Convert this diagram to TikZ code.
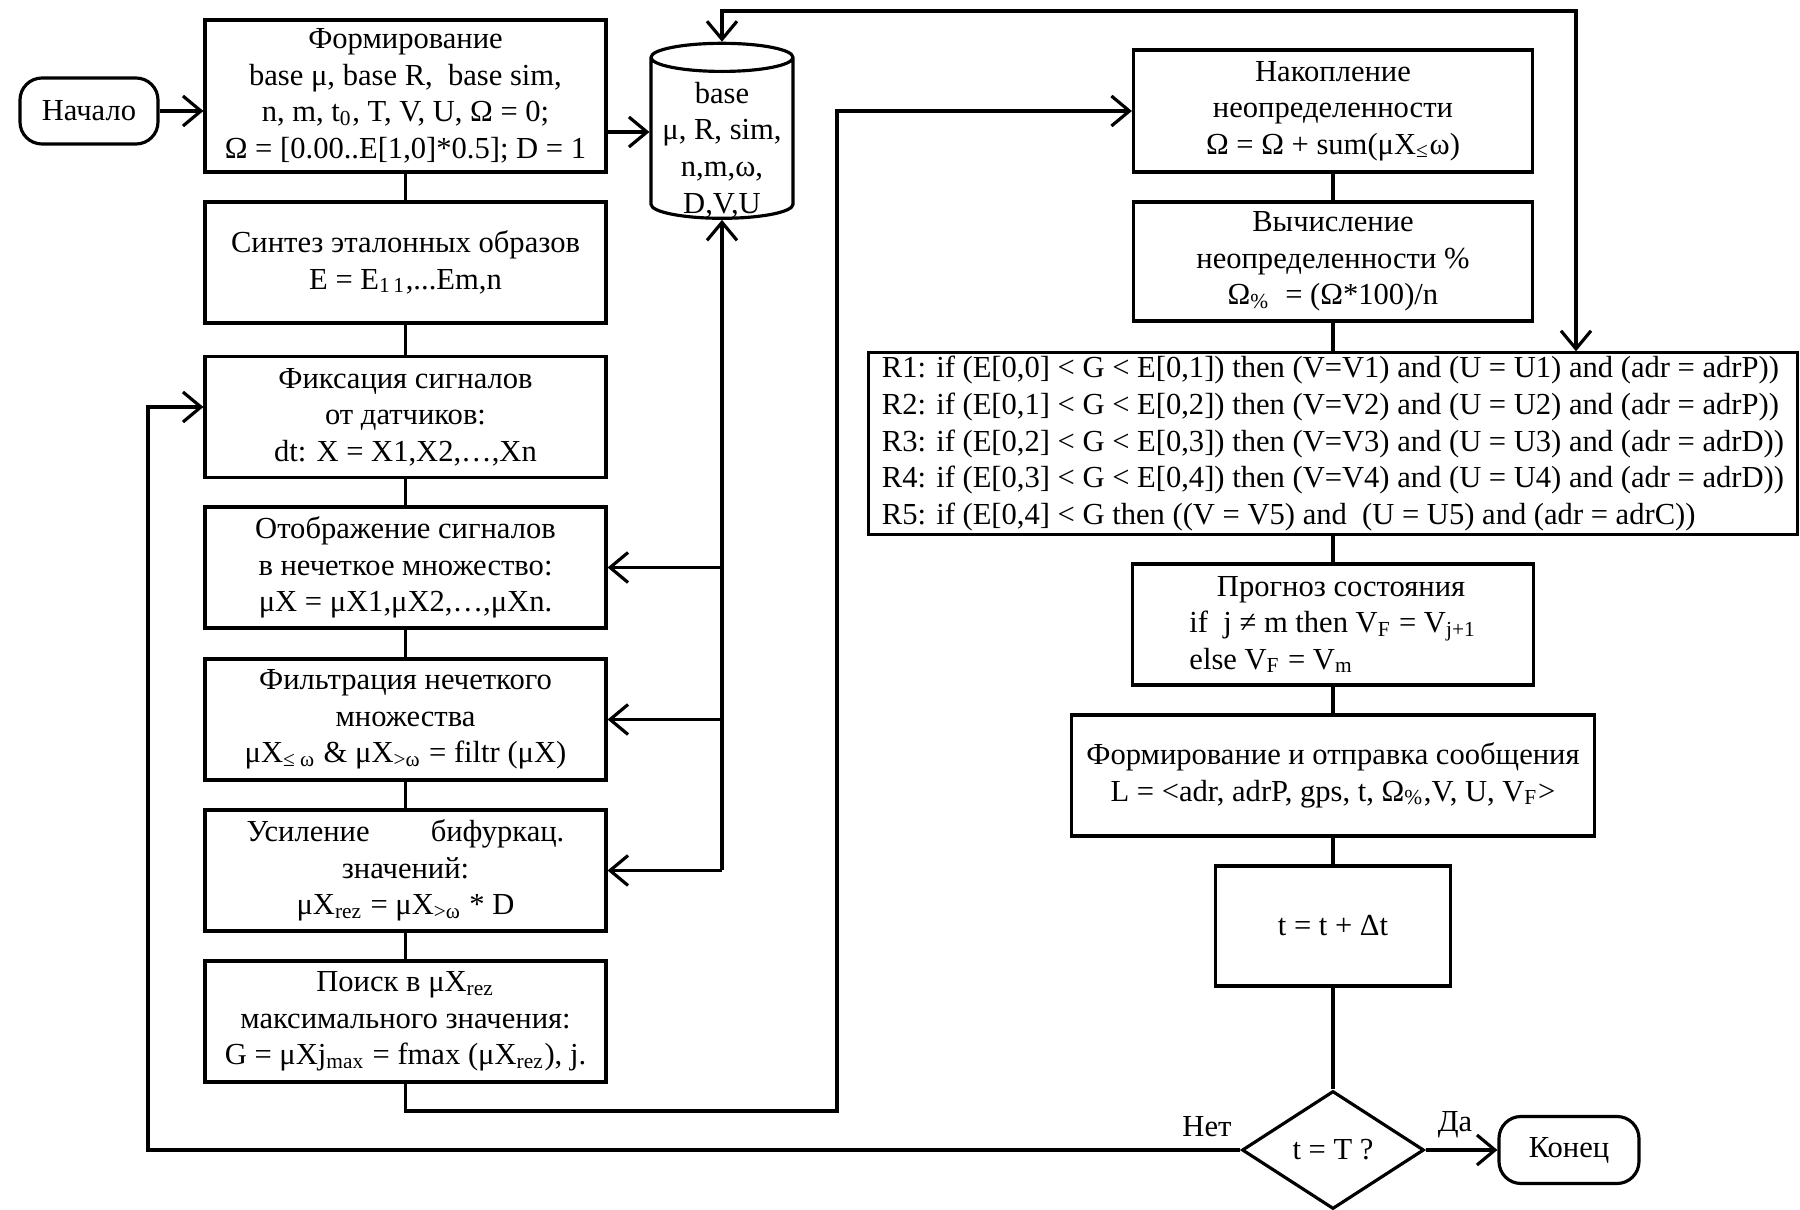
\documentclass[tikz,border=0pt]{standalone}
\usepackage{fontspec}
\setmainfont{Liberation Serif}
\usetikzlibrary{shapes.geometric,arrows.meta}

\begin{document}
\begin{tikzpicture}[>={Straight Barb[length=1.8mm,width=3mm]},line width=0.9pt,
   font=\fontsize{8.7}{10.4}\selectfont,
   blk/.style={draw,minimum width=4.01cm,minimum height=1.21cm,align=center,inner sep=1pt},
   term/.style={draw,rounded corners=2.2mm,minimum width=1.38cm,minimum height=0.66cm},
   cond/.style={draw,diamond,minimum width=1.82cm,minimum height=1.18cm,inner sep=0pt},
   store/.style={draw,cylinder,shape border rotate=90,aspect=1.2,minimum width=1.42cm,minimum height=1.75cm}]
   \useasboundingbox (0,0) rectangle (18,-12.1);

   \node[term] (start) at (0.89,-1.11) {Начало};
   \node[blk,minimum height=1.52cm] (f1) at (4.055,-0.96)
      {Формирование\\ base μ, base R,\ \ base sim,\\ n, m, t\textsubscript{0}, T, V, U, Ω = 0;\\ Ω = [0.00..E[1,0]*0.5]; D = 1};
   \node[blk] (f2) at (4.055,-2.625) {Синтез эталонных образов\\ E = E\textsubscript{1\,1},...Em,n};
   \node[blk] (f3) at (4.055,-4.17) {Фиксация сигналов\\ от датчиков:\\ dt: X = X1,X2,…,Xn};
   \node[blk] (f4) at (4.055,-5.675) {Отображение сигналов\\ в нечеткое множество:\\ μX = μX1,μX2,…,μXn.};
   \node[blk] (f5) at (4.055,-7.195)
      {Фильтрация нечеткого\\ множества\\ μX\textsubscript{≤ ω} \& μX\textsubscript{>ω} = filtr (μX)};
   \node[blk] (f6) at (4.055,-8.705) {Усиление\qquad бифуркац.\\ значений:\\ μX\textsubscript{rez} = μX\textsubscript{>ω} * D};
   \node[blk] (f7) at (4.055,-10.215)
      {Поиск в μX\textsubscript{rez}\\ максимального значения:\\ G = μXj\textsubscript{max} = fmax (μX\textsubscript{rez}), j.};

   \node[store] (db) at (7.22,-1.425) {};
   \node[align=center] (dbtext) at (7.22,-1.50) {base\\ μ, R, sim,\\ n,m,ω,\\ D,V,U};

   \node[blk,minimum width=3.99cm,minimum height=1.22cm] (n1) at (13.33,-1.11)
      {Накопление\\ неопределенности\\ Ω = Ω + sum(μX\textsubscript{≤}ω)};
   \node[blk,minimum width=3.99cm,minimum height=1.19cm] (n2) at (13.33,-2.615)
      {Вычисление\\ неопределенности \%\\ Ω\textsubscript{\%}\ \ = (Ω*100)/n};
   \node[blk,align=left,minimum width=9.29cm,minimum height=1.81cm] (rules) at (13.33,-4.435)
      {R1: if (E[0,0] < G < E[0,1]) then (V=V1) and (U = U1) and (adr = adrP))\\
       R2: if (E[0,1] < G < E[0,2]) then (V=V2) and (U = U2) and (adr = adrP))\\
       R3: if (E[0,2] < G < E[0,3]) then (V=V3) and (U = U3) and (adr = adrD))\\
       R4: if (E[0,3] < G < E[0,4]) then (V=V4) and (U = U4) and (adr = adrD))\\
       R5: if (E[0,4] < G then ((V = V5) and\ \ (U = U5) and (adr = adrC))};
   \node[blk,align=left] (p) at (13.33,-6.245)
      {\hspace*{0.9em}Прогноз состояния\\ if\ \ j ≠ m then V\textsubscript{F} = V\textsubscript{j+1}\\ else V\textsubscript{F} = V\textsubscript{m}};
   \node[blk,minimum width=5.23cm] (msg) at (13.33,-7.755)
      {Формирование и отправка сообщения\\ L = <adr, adrP, gps, t, Ω\textsubscript{\%},V, U, V\textsubscript{F}>};
   \node[blk,minimum width=2.35cm,minimum height=1.2cm] (tt) at (13.33,-9.26) {t = t + Δt};
   \node[cond] (dec) at (13.33,-11.5) {t = T ?};
   \node[term,minimum width=1.4cm,minimum height=0.67cm] (end) at (15.69,-11.5) {Конец};
   \node (no) at (12.07,-11.27) {Нет};
   \node (yes) at (14.55,-11.25) {Да};

   \coordinate (tr) at (15.76,-0.11);
   \coordinate (lb) at (8.37,-11.11);
   \coordinate (ll) at (1.48,-4.07);

   \draw[->] (start.east) -- (start.east -| f1.west);
   \draw[->] (f1.east |- 0,-1.32) -- (db.west |- 0,-1.32);
   \foreach \a/\b in {f1/f2,f2/f3,f3/f4,f4/f5,f5/f6,f6/f7}
      \draw (\a) -- (\b);
   \draw[->] (db.south |- f6.east) -- (db.south);
   \foreach \b in {f4,f5,f6}
      \draw[->] (db.south |- \b.east) -- (\b.east);
   \draw[<->] (db.north) |- (tr) -- (tr |- rules.north);
   \draw[->] (f7.south) |- (lb) |- (n1.west);
   \foreach \a/\b in {n1/n2,n2/rules,rules/p,p/msg,msg/tt,tt/dec}
      \draw (\a) -- (\b);
   \draw[->] (dec.east) -- (end.west);
   \draw[->] (dec.west) -| (ll) -- (ll -| f3.west);

\end{tikzpicture}
\end{document}
